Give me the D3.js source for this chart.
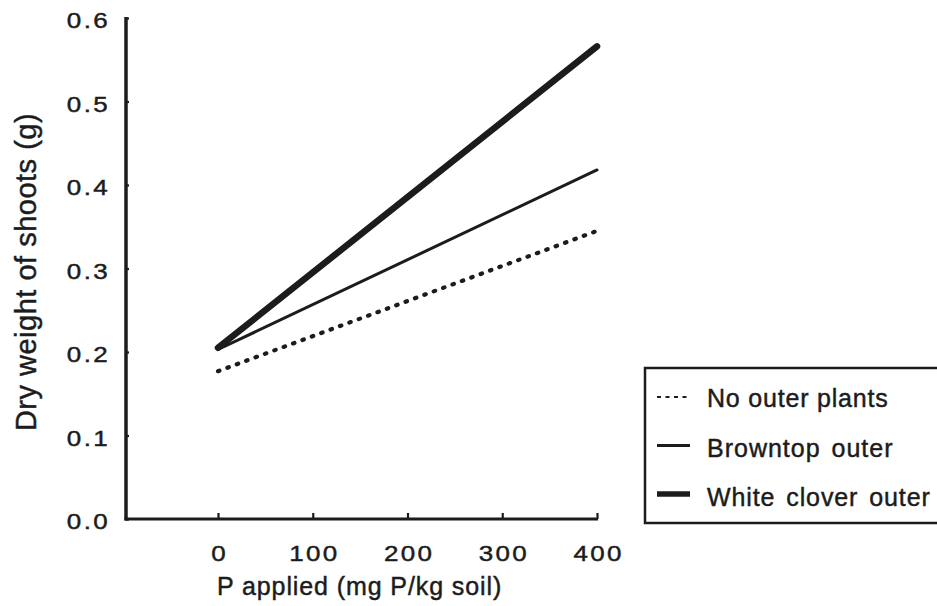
<!DOCTYPE html>
<html>
<head>
<meta charset="utf-8">
<script src="https://cdn.jsdelivr.net/npm/d3@7"></script>
<style>
  html, body { margin: 0; padding: 0; background: #fff; }
  svg { display: block; }
  text {
    font-family: "Liberation Sans", Arial, Helvetica, sans-serif;
    fill: #1c1c1c; stroke: #1c1c1c; stroke-width: 0.45px;
  }
</style>
</head>
<body>
<svg id="chart" width="937" height="606"></svg>
<script>
// P applied (mg P/kg soil) at the ends of each fitted line
const pApplied = [0, 400];

// Fitted shoot dry weight (g) for each outer-plant treatment
const noOuterPlants    = [0.177, 0.345];
const browntopOuter    = [0.203, 0.418];
const whiteCloverOuter = [0.205, 0.566];

const seriesNames = ["No outer plants", "Browntop outer", "White clover outer"];

const xTicks = [0, 100, 200, 300, 400];
const yTicks = [0.0, 0.1, 0.2, 0.3, 0.4, 0.5, 0.6];

const xTitle = "P applied (mg P/kg soil)";
const yTitle = "Dry weight of shoots (g)";

const ink = "#1c1c1c";
const svg = d3.select("#chart");

// Tick numerals are set in a slightly widened face
const tickWiden = 1.18;

// Scales
const x = d3.scaleLinear().domain([0, 400]).range([218, 597]);
const y = d3.scaleLinear().domain([0, 0.6]).range([519, 18]);
const yAxisX = 126; // the y axis sits left of P = 0

// Y axis: ticks point inward (right)
const yAxis = d3.axisLeft(y).tickValues(yTicks).tickFormat(d3.format(".1f"))
  .tickSize(-3).tickPadding(0);
const gy = svg.append("g").attr("transform", `translate(${yAxisX},0)`).call(yAxis);
gy.select(".domain").remove();
gy.selectAll(".tick line").attr("stroke", ink).attr("stroke-width", 2.2);
gy.selectAll(".tick text")
  .attr("x", -16 / tickWiden).attr("dy", "0.45em")
  .attr("transform", `scale(${tickWiden},1)`)
  .style("font-size", "22px").style("letter-spacing", "2px")
  .attr("fill", ink);

// Y axis line
svg.append("line")
  .attr("x1", yAxisX).attr("x2", yAxisX)
  .attr("y1", y(0.6) - 1).attr("y2", y(0) + 1.5)
  .attr("stroke", ink).attr("stroke-width", 3.5);

// X axis: ticks point inward (up)
const xAxis = d3.axisBottom(x).tickValues(xTicks).tickFormat(d3.format("d"))
  .tickSize(-6).tickPadding(0);
const gx = svg.append("g").attr("transform", `translate(0,${y(0)})`).call(xAxis);
gx.select(".domain").remove();
gx.selectAll(".tick line").attr("stroke", ink).attr("stroke-width", 2.2);
gx.selectAll(".tick text")
  .attr("y", 42).attr("dy", 0).attr("x", 1)
  .attr("transform", `scale(${tickWiden},1)`)
  .style("font-size", "22px").style("letter-spacing", "2px")
  .attr("fill", ink);

// X axis line, running from the y axis to P = 400
svg.append("line")
  .attr("x1", yAxisX - 1.5).attr("x2", x(400) + 1)
  .attr("y1", y(0)).attr("y2", y(0))
  .attr("stroke", ink).attr("stroke-width", 3);

// Axis titles
svg.append("text")
  .attr("x", 217).attr("y", 595)
  .style("font-size", "25px").style("letter-spacing", "0.9px")
  .text(xTitle);

svg.append("text")
  .attr("transform", `translate(36,${272}) rotate(-90)`)
  .attr("text-anchor", "middle")
  .style("font-size", "29px").style("letter-spacing", "0.5px")
  .text(yTitle);

// Series lines
const lineGen = d3.line().x(d => x(d[0])).y(d => y(d[1]));
const styles = [
  { values: noOuterPlants, width: 4.2, dash: "1.5 8.5" },
  { values: browntopOuter, width: 3, dash: null },
  { values: whiteCloverOuter, width: 6.5, dash: null }
];

styles.forEach(s => {
  const pts = pApplied.map((p, i) => [p, s.values[i]]);
  svg.append("path")
    .attr("d", lineGen(pts))
    .attr("fill", "none")
    .attr("stroke", ink)
    .attr("stroke-width", s.width)
    .attr("stroke-linecap", "round")
    .attr("stroke-dasharray", s.dash);
});

// Legend
const legend = svg.append("g").attr("transform", "translate(645,368)");
legend.append("rect")
  .attr("x", 0).attr("y", 0).attr("width", 320).attr("height", 155)
  .attr("fill", "#fff").attr("stroke", ink).attr("stroke-width", 2.5);

const legendStyles = [
  { width: 2.2, dash: "4 4.5", wordGap: "0px", spacing: "0.8px" },
  { width: 2.8, dash: null, wordGap: "3px", spacing: "1px" },
  { width: 5.5, dash: null, wordGap: "3px", spacing: "0.9px" }
];
seriesNames.forEach((name, i) => {
  const cy = 29 + i * 48.5;
  legend.append("line")
    .attr("x1", 12).attr("x2", 45)
    .attr("y1", cy).attr("y2", cy)
    .attr("stroke", ink)
    .attr("stroke-width", legendStyles[i].width)
    .attr("stroke-dasharray", legendStyles[i].dash);
  legend.append("text")
    .attr("x", 62).attr("y", 39 + i * 49.5)
    .style("font-size", "25px").style("letter-spacing", legendStyles[i].spacing)
    .style("word-spacing", legendStyles[i].wordGap)
    .text(name);
});
</script>
</body>
</html>
